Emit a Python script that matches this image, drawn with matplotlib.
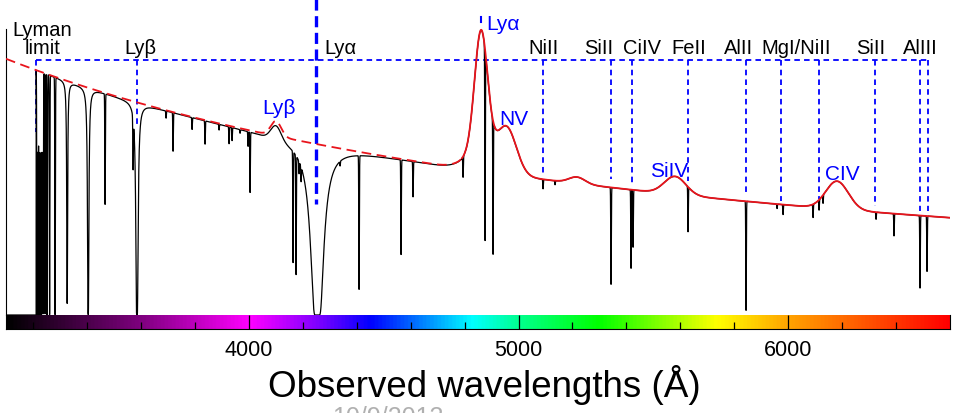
import numpy as np
import matplotlib
matplotlib.use('Agg')
import matplotlib.pyplot as plt
from matplotlib.colors import LinearSegmentedColormap

plt.rcParams['font.family'] = ['Liberation Sans', 'DejaVu Sans']
plt.rcParams['lines.scale_dashes'] = False

# observed wavelength range (Angstrom)
wl_min, wl_max = 3098, 6601

# quasar continuum, power law: cont_norm * (wl / cont_ref) ** cont_slope
cont_norm, cont_ref, cont_slope = 2.56, 3100.0, -1.28

# quasar emission lines (Lyb/OVI, Lya narrow+broad, NV, OI, SiIV, CIV)
em_center = [4100, 4861, 4861, 4957, 5217, 5581, 6182]
em_amp = [0.15, 1.2, 0.20, 0.44, 0.065, 0.18, 0.28]
em_sigma = [19, 24, 55, 36, 30, 40, 42]

# damped absorber at z~2.5: Lya, Lyb, Lyg, Lyd (lorentzian optical depth)
damp_center = [4253, 3584, 3403, 3325]
damp_strength = [580, 18, 7, 3]
lyman_limit = 3210

# narrow absorption lines: observed wavelength, depth
abs_wl = [3213.3, 3217.0, 3220.8, 3224.5, 3228.2, 3231.9, 3235.6, 3243.1,
          3250.5, 3259.8, 3280.2, 3465.7, 3569.6, 3692.0, 3718.0, 3788.5,
          3836.7, 3888.7, 3925.8, 3936.9, 3966.6, 3996.3, 4003.7, 4163.3,
          4174.4, 4185.5, 4193.0, 4337.7, 4408.2, 4564.0, 4608.5, 4794.1,
          4875.7, 4905.4, 5090.9, 5135.4, 5343.2, 5417.4, 5424.9, 5629.0,
          5844.2, 5959.2, 5981.5, 6092.8, 6115.1, 6129.9, 6326.6, 6393.3,
          6489.8, 6515.8]
abs_depth = [1, 1, 1, 1, 1, 1, 1, 1,
             1, 1, 1, 0.5, 0.26, 0.035, 0.19, 0.06,
             0.12, 0.03, 0.09, 0.07, 0.02, 0.08, 0.33, 0.68,
             0.75, 0.08, 0.1, 0.03, 0.84, 0.61, 0.23, 0.13,
             0.72, 0.69, 0.07, 0.03, 0.76, 0.63, 0.46, 0.35,
             0.96, 0.04, 0.09, 0.12, 0.09, 0.07, 0.07, 0.22,
             0.73, 0.56]

# metal line markers of the absorber (thin dashed blue)
mark_wl = [3210, 3584, 5091, 5343, 5421, 5629, 5844, 5974, 6115, 6323, 6490, 6519]
mark_bottom = [1.83, 1.91, 1.41, 1.36, 1.31, 1.34, 1.19, 1.14, 1.16, 1.09, 1.04, 1.04]
mark_top = 2.55
dla_wl, dla_bottom = 4249, 1.11

label_text = ['Lyman\nlimit', 'Lyβ', 'Lyα', 'NiII', 'SiII', 'CiIV', 'FeII',
              'AlII', 'MgI/NiII', 'SiII', 'AlIII']
label_wl = [3232, 3596, 4338, 5091, 5299, 5458, 5633, 5818, 6030, 6308, 6490]

em_label_text = ['Lyβ', 'Lyα', 'NV', 'SiIV', 'CIV']
em_label_wl = [4111, 4942, 4983, 5558, 6200]
em_label_flux = [2.02, 2.86, 1.91, 1.39, 1.36]

cbar_wl = [3098, 3600, 4000, 4250, 4450, 4830, 5000, 5300, 5740, 6000, 6601]
cbar_col = ['#000000', '#800080', '#ff00ff', '#8000ff', '#0000ff', '#00ffff',
            '#00ff90', '#00ff00', '#ffff00', '#ffa500', '#ff0000']

# build spectrum
wl = np.arange(wl_min, wl_max, 0.25)
model = cont_norm * (wl / cont_ref) ** cont_slope
for c, a, s in zip(em_center, em_amp, em_sigma):
    model += a * np.exp(-0.5 * ((wl - c) / s) ** 2)

tau = np.zeros_like(wl)
for c, a in zip(damp_center, damp_strength):
    tau += a / ((wl - c) ** 2 + 1.0)
flux = model * np.exp(-tau)
for c, d in zip(abs_wl, abs_depth):
    flux *= 1 - d * np.exp(-0.5 * ((wl - c) / 1.0) ** 2)
flux[wl < lyman_limit] = 0

fig = plt.figure(figsize=(9.55, 4.14), dpi=100)
ax = fig.add_axes([6 / 955, (414 - 316) / 414, 944 / 955, 316 / 414])
cax = fig.add_axes([6 / 955, (414 - 330) / 414, 944 / 955, 14 / 414])

ax.plot(wl, flux, color='black', lw=0.9, zorder=3)
blue_side = wl < 4790
ax.plot(wl[blue_side], model[blue_side], color='#e8141c', lw=1.3,
        dashes=(7, 4), zorder=4)
ax.plot(wl[~blue_side], model[~blue_side], color='#e8141c', lw=1.3, zorder=4)

# marker lines
ax.plot([mark_wl[0], mark_wl[-1]], [mark_top, mark_top], color='blue', lw=1.3,
        dashes=(4, 3), zorder=2)
for w, b in zip(mark_wl, mark_bottom):
    ax.plot([w, w], [mark_top, b], color='blue', lw=1.3, dashes=(4, 3), zorder=2)
ax.plot([dla_wl, dla_wl], [3.16, dla_bottom], color='blue', lw=2.4,
        dashes=(8, 4), zorder=2)
ax.plot([4861, 4861], [2.93, 2.98], color='blue', lw=1.5, zorder=2)

for t, w in zip(label_text, label_wl):
    ax.text(w, 2.62, t, ha='center', va='baseline', fontsize=14.5,
            linespacing=0.92)
for t, w, f in zip(em_label_text, em_label_wl, em_label_flux):
    ax.text(w, f, t, ha='center', va='baseline', fontsize=15, color='blue')

ax.set_xlim(wl_min, wl_max)
ax.set_ylim(0, 3.16)
for side in ['top', 'right', 'bottom']:
    ax.spines[side].set_visible(False)
ax.spines['left'].set_bounds(0, 2.86)
ax.set_xticks([])
ax.set_yticks([])
ax.patch.set_alpha(0)

# wavelength colour bar
positions = [(w - wl_min) / (wl_max - wl_min) for w in cbar_wl]
cmap = LinearSegmentedColormap.from_list('spec', list(zip(positions, cbar_col)))
cax.imshow(np.linspace(0, 1, 512)[None, :], cmap=cmap, aspect='auto',
           extent=[wl_min, wl_max, 0, 1])
cax.set_xlim(wl_min, wl_max)
cax.set_ylim(0, 1)
cax.set_yticks([])
cax.spines['top'].set_visible(False)
cax.set_xticks([4000, 5000, 6000])
cax.set_xticks(np.arange(3200, 6600, 200), minor=True)
cax.tick_params(axis='x', which='major', direction='in', length=10, width=0.9,
                labelsize=15.5, pad=7)
cax.tick_params(axis='x', which='minor', direction='in', length=5, width=0.9)

fig.text(484 / 955, 17 / 414, 'Observed wavelengths (Å)', ha='center',
         va='baseline', fontsize=26.5)
# date footer, cut by the bottom edge as in the slide
fig.text(388 / 955, -11 / 414, '10/9/2013', ha='center', va='baseline',
         fontsize=18, color='#b0b0b0')

fig.savefig('out.png', dpi=100)
